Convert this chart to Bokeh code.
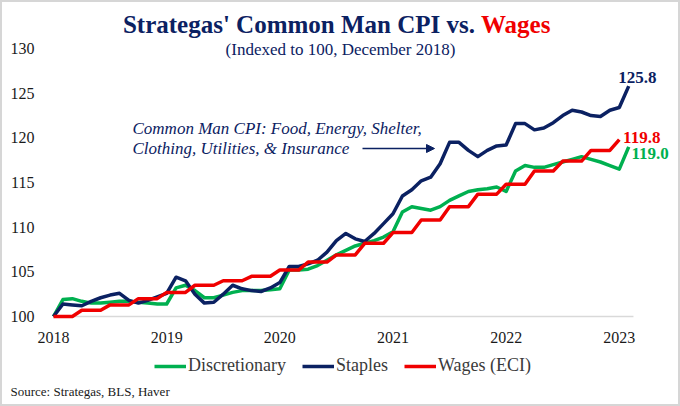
from bokeh.plotting import figure
from bokeh.models import Range1d, Label, Arrow, NormalHead, Legend, LegendItem
from bokeh.core.properties import value
from bokeh.embed import file_html
from bokeh.resources import INLINE

# ---------------- data ----------------
months = list(range(62))  # 0 = Dec 2018 base, monthly

staples = [100.0, 101.4, 101.3, 101.2, 101.7, 102.1, 102.4, 102.6, 101.8, 101.5,
           101.8, 102.2, 102.6, 104.4, 104.0, 102.5, 101.5, 101.6, 102.5, 103.5,
           103.1, 102.9, 102.8, 103.2, 103.8, 105.6, 105.6, 105.9, 106.3, 107.2,
           108.5, 109.3, 108.7, 108.4, 109.3, 110.4, 111.5, 113.5, 114.2, 115.2,
           115.6, 117.1, 119.5, 119.5, 118.6, 117.9, 118.6, 119.1, 119.2, 121.6,
           121.6, 120.9, 121.1, 121.7, 122.5, 123.1, 122.9, 122.5, 122.4, 123.1,
           123.4, 125.8]

discretionary = [100.0, 101.9, 102.0, 101.7, 101.5, 101.5, 101.6, 101.7, 101.7, 101.6,
                 101.5, 101.4, 101.4, 103.2, 103.5, 102.9, 102.1, 102.1, 102.4, 102.7,
                 102.9, 102.9, 102.9, 103.0, 103.1, 105.2, 105.2, 105.3, 105.7, 106.3,
                 106.9, 107.4, 107.9, 108.2, 108.5, 108.9, 109.5, 111.7, 112.3, 112.1,
                 111.9, 112.3, 113.0, 113.5, 114.0, 114.2, 114.3, 114.5, 114.0, 116.3,
                 116.9, 116.7, 116.7, 117.0, 117.3, 117.6, 117.9, 117.6, 117.3, 116.9,
                 116.5, 119.0]

wages = [100.0, 100.0, 100.0, 100.7, 100.7, 100.7, 101.3, 101.3, 101.3, 102.0,
         102.0, 102.0, 102.7, 102.7, 102.7, 103.5, 103.5, 103.5, 104.0, 104.0,
         104.0, 104.5, 104.5, 104.5, 105.2, 105.2, 105.2, 106.1, 106.1, 106.1,
         106.9, 106.9, 106.9, 108.2, 108.2, 108.2, 109.4, 109.4, 109.4, 110.8,
         110.8, 110.8, 112.3, 112.3, 112.3, 113.7, 113.7, 113.7, 114.8, 114.8,
         114.8, 116.3, 116.3, 116.3, 117.4, 117.4, 117.4, 118.6, 118.6, 118.6,
         119.8]

x_tick_pos = [0, 12, 24, 36, 48, 60]
x_tick_labels = ["2018", "2019", "2020", "2021", "2022", "2023"]
y_ticks = [100, 105, 110, 115, 120, 125, 130]
y_tick_labels = ["100", "105", "110", "115", "120", "125", "130"]

series_names = ["Discretionary", "Staples", "Wages (ECI)"]

# ---------------- style / layout ----------------
NAVY = "#0b2162"
GREEN = "#00b050"
RED = "#f00000"
FONT = "Liberation Serif"

W, H = 680, 406
PXM = 9.43      # pixels per month
PXU = 8.93      # pixels per index point
LEFT = 53       # pixel x of first month
BASE = 316      # pixel y (from top) of value 100

p = figure(width=W, height=H, output_backend="svg", toolbar_location=None,
           x_axis_type=None, y_axis_type=None,
           x_range=Range1d(-LEFT / PXM, (W - LEFT) / PXM),
           y_range=Range1d(100 - (H - BASE) / PXU, 100 + BASE / PXU),
           min_border=0)
p.outline_line_color = "#d6d6d6"
p.outline_line_width = 3
p.grid.visible = False
p.background_fill_color = "white"
p.border_fill_color = "white"

# baseline at 100
p.segment(x0=[months[0]], y0=[y_ticks[0]], x1=[months[-1] + 0.5], y1=[y_ticks[0]],
          line_color="#d9d9d9", line_width=1.5)

# tick labels
p.text(x=[months[0]] * len(y_ticks), y=y_ticks, text=y_tick_labels,
       x_offset=-19, text_align="right", text_baseline="middle",
       text_font=value(FONT), text_font_size=value("16px"), text_color="#1a1a1a")
p.text(x=x_tick_pos, y=[y_ticks[0] - 21 / PXU] * len(x_tick_pos), text=x_tick_labels,
       text_align="center", text_baseline="middle",
       text_font=value(FONT), text_font_size=value("16px"), text_color="#1a1a1a")

r_g = p.line(months, discretionary, line_color=GREEN, line_width=3.5, line_join="round")
r_b = p.line(months, staples, line_color=NAVY, line_width=3.5, line_join="round")
r_r = p.line(months[:len(wages)], wages, line_color=RED, line_width=3.5, line_join="round")

legend = Legend(items=[LegendItem(label=series_names[0], renderers=[r_g]),
                       LegendItem(label=series_names[1], renderers=[r_b]),
                       LegendItem(label=series_names[2], renderers=[r_r])],
                orientation="horizontal", location=(154, H - 376),
                glyph_width=32, glyph_height=20, label_standoff=2, spacing=16,
                padding=0, margin=0, border_line_color=None,
                background_fill_alpha=0, label_height=20,
                label_text_font=FONT, label_text_font_size="18px",
                label_text_color="#3a3a3a")
p.add_layout(legend, "center")


def scr_label(fx, fy, text, **kw):
    """Label placed in figure pixel coords (fx from left, fy from top)."""
    return Label(x=fx, y=H - fy, x_units="screen", y_units="screen", text=text,
                 text_baseline="middle", text_font=FONT, **kw)


# ---------------- titles ----------------
p.add_layout(scr_label(474.5, 24, "Strategas' Common Man CPI vs.", text_align="right",
                       text_font_style="bold", text_font_size="25px", text_color=NAVY))
p.add_layout(scr_label(480.5, 24, "Wages", text_align="left",
                       text_font_style="bold", text_font_size="25px", text_color=RED))
p.add_layout(scr_label(340, 48.5, "(Indexed to 100, December 2018)", text_align="center",
                       text_font_size="17px", text_color=NAVY))

# ---------------- annotation ----------------
p.add_layout(scr_label(132, 128, "Common Man CPI: Food, Energy, Shelter,", text_align="left",
                       text_font_style="italic", text_font_size="17px", text_color=NAVY))
p.add_layout(scr_label(132, 148, "Clothing, Utilities, & Insurance", text_align="left",
                       text_font_style="italic", text_font_size="17px", text_color=NAVY))
p.add_layout(Arrow(x_start=362, y_start=H - 148, x_end=434, y_end=H - 148,
                   start_units="screen", end_units="screen",
                   line_color=NAVY, line_width=1.5,
                   end=NormalHead(size=8, fill_color=NAVY, line_color=NAVY)))

# ---------------- end labels ----------------
p.add_layout(Label(x=months[61] - 1.1, y=staples[-1] + 1.0,
                   text=f"{staples[-1]:.1f}", text_align="left", text_baseline="middle",
                   text_font=FONT, text_font_style="bold", text_font_size="17px",
                   text_color=NAVY))
p.add_layout(Label(x=months[len(wages) - 1] + 0.4, y=wages[-1] + 0.25,
                   text=f"{wages[-1]:.1f}", text_align="left", text_baseline="middle",
                   text_font=FONT, text_font_style="bold", text_font_size="17px",
                   text_color=RED))
p.add_layout(Label(x=months[61] + 0.3, y=discretionary[-1] - 0.7,
                   text=f"{discretionary[-1]:.1f}", text_align="left", text_baseline="middle",
                   text_font=FONT, text_font_style="bold", text_font_size="17px",
                   text_color=GREEN))

# ---------------- source ----------------
p.add_layout(scr_label(10, 391, "Source: Strategas, BLS, Haver", text_align="left",
                       text_font_size="13px", text_color="#1a1a1a"))

open("out.html", "w").write(file_html(p, INLINE))
